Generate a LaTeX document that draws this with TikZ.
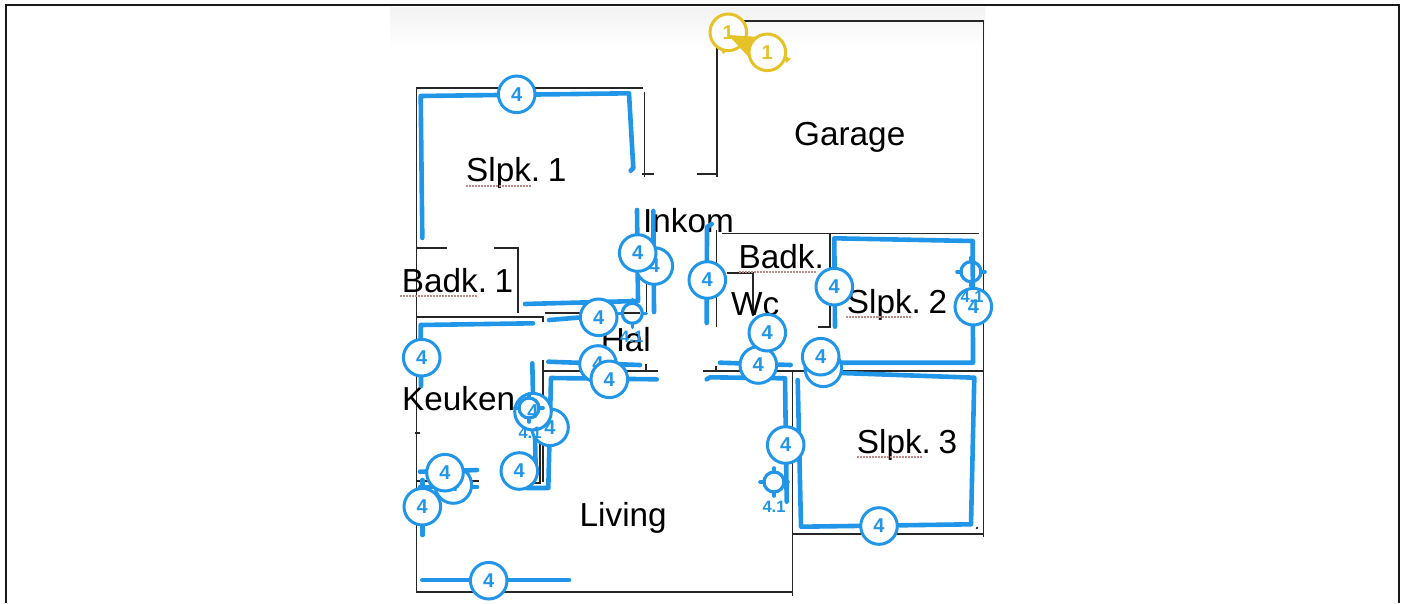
\documentclass[tikz,border=0pt]{standalone}
\usepackage{fontspec}
\setmainfont[WordSpace=0.5]{Liberation Sans}
\definecolor{markblue}{HTML}{2196E8}
\definecolor{markyellow}{HTML}{E6C229}
\definecolor{squiggle}{HTML}{C08A8A}
\tikzset{
  wall/.style={black!85,line width=1.6pt},
  run/.style={markblue,line width=4.6pt,line cap=round,line join=round},
  room/.style={anchor=base west,inner sep=0pt,text=black,font=\fontsize{33.3}{36}\selectfont},
  spell/.style={squiggle,line width=2.4pt,dash pattern=on 2pt off 1pt},
  tag/.style={circle,draw=markblue,fill=white,text=markblue,line width=3pt,minimum size=36.6pt,inner sep=0pt,font=\fontsize{20}{20}\selectfont\bfseries},
  ytag/.style={tag,draw=markyellow,text=markyellow},
  tiplabel/.style={text=markblue,inner sep=0pt,font=\fontsize{16.5}{17}\selectfont\bfseries},
  crosshair/.pic={
    \draw[markblue,line width=3.2pt] (0,0) circle (10);
    \draw[markblue,line width=3.6pt,line cap=round] (-14,0) -- (-10,0) (10,0) -- (14,0) (0,-14) -- (0,-10) (0,10) -- (0,14);
  }
}
\begin{document}
\begin{tikzpicture}[x=1pt,y=-1pt]
  \useasboundingbox (0,0) rectangle (1405,603);
  \shade[top color=black!5,bottom color=white] (390,7) rectangle (985,48);
  \draw[black!90,line width=2.6pt] (6,603) -- (6,5) -- (1399,5) -- (1399,603);

  % Walls
  \draw[wall] (643,88) -- (416.5,88) -- (416.5,592) -- (793,592);
  \draw[wall] (792.5,596) -- (792.5,371);
  \draw[wall] (703,371) -- (984,371);
  \draw[wall] (793,534) -- (984,534);
  \draw[wall] (717,177) -- (717,21) -- (983.5,21) -- (983.5,537);
  \draw[wall] (644.5,92) -- (644.5,177);
  \draw[wall] (642,174) -- (654,174);
  \draw[wall] (697,174) -- (717,174);
  \draw[wall] (722,233.5) -- (979,233.5);
  \draw[wall] (716.5,230) -- (716.5,327);
  \draw[wall] (830,233.5) -- (830,327) -- (818,327);
  \draw[wall] (727,273) -- (753,273) -- (753,316);
  \draw[wall] (416,248) -- (447,248);
  \draw[wall] (494,248) -- (518,248) -- (518,313);
  \draw[wall] (646.5,250) -- (646.5,312);
  \draw[wall] (416,317) -- (543,317) -- (543,322);
  \draw[wall] (545,313) -- (640,313);
  \draw[wall] (543,482) -- (543,360);
  \draw[wall] (544,371) -- (658,371);
  \draw[wall] (646,364) -- (646,371);
  \draw[wall] (716,366) -- (716,371);
  \draw[wall] (540,395) -- (540,483) -- (530,483);
  \draw[wall] (415,433) -- (420,433);
  \draw[wall] (417,481) -- (479,481);
  \draw[wall] (470,487) -- (479,487);
  \draw[wall] (976.5,529) -- (977.5,527);

  % Rooms
  \node[room] (garage) at (794,145) {Garage};
  \node[room] (slpkone) at (466,181.7) {Slpk. 1};
  \node[room] (badkone) at (401.7,292.7) {Badk. 1};
  \node[room] (inkom) at (643,232) {Inkom};
  \node[room] (badktwo) at (738.5,268) {Badk.};
  \node[room] (wc) at (731,315) {Wc};
  \node[room] (slpktwo) at (846.7,313) {Slpk. 2};
  \node[room] (slpkthree) at (856.7,453) {Slpk. 3};
  \node[room] (keuken) at (402,410) {Keuken};
  \node[room] (living) at (579.5,526.7) {Living};
  \node[room] (hal) at (600.7,351.7) {Hal};

  \draw[spell] (466,186) -- (532,186);
  \draw[spell] (400,295.7) -- (477,295.7);
  \draw[spell] (739,271.7) -- (817,271.7);
  \draw[spell] (846,316.7) -- (912,316.7);
  \draw[spell] (857,456.7) -- (922,456.7);

  % Blue runs
  \draw[run] (422.3,238) -- (420.7,96) -- (629,93.3) -- (633.3,168) -- (630.7,170.7);
  \draw[run] (637,210) -- (638,301) -- (525,304);
  \draw[run] (653.3,211) -- (654,312);
  \draw[run] (549,320) -- (598,316);
  \draw[run] (533,323.3) -- (420.7,325) -- (421,386);
  \draw[run] (548.3,361.7) -- (640,365);
  \draw[run] (656.7,379.3) -- (551,378) -- (548.3,488) -- (526,488);
  \draw[run] (532.3,363.3) -- (533,395) -- (535,437) -- (535.7,470);
  \draw[run] (422.3,580) -- (569,580);
  \draw[run] (422.5,480) -- (422.5,535);
  \draw[run] (420,471.7) -- (477,470);
  \draw[run] (420,487) -- (477,487);
  \draw[run] (711.7,224) -- (707,227) -- (706.7,323);
  \draw[run] (720,362.7) -- (790.7,365);
  \draw[run] (706.7,379.3) -- (710,377.3) -- (785,378.3) -- (786.7,501.7);
  \draw[run] (797.7,380) -- (801,526.7) -- (971,524.3) -- (974.3,377.7) -- (833,372.7);
  \draw[run] (835,326.7) -- (834.3,238.3) -- (972.7,241) -- (973,362.7) -- (836.7,362.7);

  % Tags
  \node[tag] (tagslpkone) at (516.7,94.3) {4};
  \node[tag] (taginkomb) at (654.3,266) {4};
  \node[tag] (taginkoma) at (637.7,253) {4};
  \node[tag] (taghal) at (598.7,317.3) {4};
  \node[tag] (tagkeuken) at (421.7,357.7) {4};
  \node[tag] (taghalb) at (598,364) {4};
  \node[tag] (taghalc) at (609.3,379.3) {4};
  \node[tag] (tagdoorb) at (550,427.3) {4};
  \node[tag] (tagdoora) at (533,411.7) {4};
  \node[tag] (tagdoorc) at (519.3,471) {4};
  \node[tag] (tagkitchb) at (453.3,485) {4};
  \node[tag] (tagkitcha) at (445,472.7) {4};
  \node[tag] (tagkitchc) at (422.3,506.7) {4};
  \node[tag] (tagliving) at (488.7,580.7) {4};
  \node[tag] (taghallway) at (707.3,280) {4};
  \node[tag] (tagwcb) at (758.3,365) {4};
  \node[tag] (tagwca) at (767.3,332.7) {4};
  \node[tag] (tagdoord) at (785.7,445) {4};
  \node[tag] (tagslpkthree) at (879,526) {4};
  \node[tag] (tagcornerb) at (823.3,368.3) {4};
  \node[tag] (tagcornera) at (820.7,356.7) {4};
  \node[tag] (tagslpktwo) at (834.3,286.7) {4};
  \node[tag] (tagright) at (973.3,306.7) {4};

  % Crosshairs
  \pic at (632.3,313.3) {crosshair};
  \pic at (529,408) {crosshair};
  \pic at (971,271.7) {crosshair};
  \pic at (774,482) {crosshair};
  \node[tiplabel] (tiphal) at (631.7,337) {4.1};
  \node[tiplabel] (tipdoor) at (530,433) {4.1};
  \node[tiplabel] (tipright) at (972,297.3) {4.1};
  \node[tiplabel] (tipliving) at (774,507) {4.1};

  % Garage
  \node[ytag] (ygaragea) at (728.3,32.3) {1};
  \fill[markyellow] (728.3,35) -- (755,36.7) -- (748.3,56.7) -- cycle;
  \fill[markyellow] (721,50) -- (727,51) -- (723,54) -- cycle;
  \fill[markyellow] (784,56) -- (791,58.5) -- (786,63) -- cycle;
  \node[ytag] (ygarageb) at (767.3,52.3) {1};
\end{tikzpicture}
\end{document}
